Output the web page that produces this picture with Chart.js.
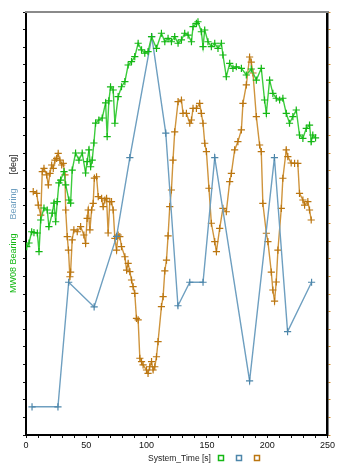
<!DOCTYPE html>
<html><head><meta charset="utf-8">
<script src="https://cdn.jsdelivr.net/npm/chart.js@4"></script>
<style>html,body{margin:0;padding:0;background:#fff;overflow:hidden}#wrap{width:337px;height:463px;position:relative}</style>
</head><body><div id="wrap"><canvas id="c" width="337" height="463"></canvas></div>
<script>
// ---- data (System_Time [s] vs bearing [deg]) ----
const greenTime = [0.6,2.5,4.7,6.6,9.4,10.8,12.2,14.9,17.6,19.0,21.8,23.2,24.6,25.9,27.3,28.7,31.5,32.9,35.6,37.0,38.3,41.1,43.9,46.6,49.4,50.7,52.2,53.6,54.9,56.3,57.7,60.4,63.2,66.0,67.3,68.7,70.1,72.3,73.7,76.4,79.2,82.0,84.7,87.5,90.2,93.0,95.8,98.5,101.2,104.1,108.2,112.3,115.1,117.8,120.6,123.3,126.1,128.9,131.6,134.4,137.2,138.5,141.3,142.6,145.4,146.8,148.2,150.9,153.7,156.5,159.2,162.0,163.3,166.1,168.9,171.6,174.4,178.6,182.7,186.8,191.0,195.1,197.8,199.3,202.0,204.7,207.5,210.3,213.0,215.8,218.5,221.3,224.1,226.8,229.6,232.4,235.1,236.5,237.8,240.1];
const greenValues = [160.3,163.4,173.0,172.2,171.9,156.0,183.0,193.2,191.5,177.3,188.9,197.4,181.5,198.6,214.5,217.0,224.1,212.8,200.0,197.4,225.5,240.0,234.0,240.0,223.0,232.6,242.6,228.3,234.0,248.5,265.5,268.1,269.8,282.6,253.9,284.3,296.2,293.6,265.3,287.9,296.4,300.7,314.9,317.7,322.0,333.4,327.7,324.9,326.2,339.0,329.1,341.9,334.7,337.6,334.7,339.0,333.4,336.2,341.9,340.4,334.7,347.5,350.4,351.7,343.2,330.5,344.7,334.7,330.5,333.4,329.1,333.4,323.4,304.9,316.3,312.1,313.4,312.1,306.4,311.5,302.1,312.1,285.1,273.8,302.1,290.8,286.6,285.1,286.6,273.8,265.3,270.9,276.6,255.3,252.5,261.0,263.8,249.6,255.3,252.8];

const blueTime = [5.0,26.5,35.4,56.5,75.1,86.1,104.3,115.9,126.0,135.8,146.8,156.5,185.4,206.0,216.9,236.8];
const blueValues = [24,24,130,109,169,236,339,257,110,130,130,236,46,236,88,130];

const orangeTime = [6.0,8.9,10.2,12.2,13.5,14.9,17.1,18.5,19.9,21.3,22.6,24.0,25.4,26.7,28.1,29.6,30.9,32.3,32.9,34.2,35.2,36.4,37.0,38.3,39.7,42.5,45.3,48.0,49.4,50.7,51.6,53.0,54.4,55.7,56.7,58.5,59.9,62.7,64.0,65.4,66.8,68.1,69.5,70.9,72.3,73.7,75.1,76.4,77.8,79.2,82.0,83.4,84.7,86.1,87.5,88.8,90.2,91.6,93.0,94.4,95.8,97.1,99.9,101.2,102.6,104.1,105.4,106.8,108.2,109.5,112.3,113.7,115.1,116.5,117.8,119.2,120.6,121.9,123.3,126.1,128.9,130.2,133.0,135.8,137.2,138.5,141.3,144.0,145.4,146.8,148.2,149.6,151.7,153.7,156.5,157.9,160.6,163.3,166.1,168.9,170.3,173.0,175.7,178.6,179.9,182.7,185.4,186.8,188.2,191.0,193.7,195.1,196.4,199.3,200.6,203.4,204.7,206.1,207.5,208.9,211.7,213.0,215.8,217.1,219.9,222.7,225.4,226.8,229.6,231.0,233.7,235.1,236.5];
const orangeValues = [207.1,205.7,195.7,187.2,224.1,227.0,221.3,212.8,222.7,229.8,227.0,234.0,235.5,239.7,234.0,229.8,231.2,221.3,191.5,168.8,157.4,134.7,138.7,166.0,174.5,173.0,177.3,170.2,163.1,184.4,191.5,174.5,191.5,197.2,218.7,219.8,202.8,201.4,194.3,200.0,201.4,171.9,198.6,198.6,191.5,167.4,157.4,170.2,168.8,160.3,151.7,140.4,146.1,139.0,131.9,126.2,120.6,99.3,97.9,65.3,62.4,59.6,55.3,52.5,58.1,62.4,55.3,58.1,66.6,79.4,109.2,117.7,139.6,148.9,169.4,194.3,208.5,234.0,257.9,283.7,285.1,273.8,273.8,265.3,268.1,278.0,278.0,282.3,273.8,265.3,248.3,241.1,210.0,180.2,164.5,156.0,175.9,192.9,190.0,215.6,222.7,242.6,249.6,259.6,282.3,297.9,321.7,317.4,308.1,270.9,246.8,241.1,197.2,171.7,164.5,138.7,123.4,114.0,130.2,157.4,192.9,218.5,242.6,236.9,231.5,231.2,231.2,205.7,200.0,195.7,198.6,191.5,183.0];

const xMin = 0, xMax = 250, xStep = 10, xLabelEvery = 50;
const yMin = 0, yMax = 360, yStep = 15;
const xTitle = 'System_Time [s]';
const yTitleParts = ['MW08 Bearing', 'Bearing', '[deg]'];

// ---- styles ----
const GREEN = '#14b814', GREEN_LINE = '#3ccc3c';
const BLUE = '#4d86aa', BLUE_LINE = '#6e9fc0';
const ORANGE = '#bb7610', ORANGE_LINE = '#cf943c';
const FONT = '"Liberation Sans", Arial, sans-serif';

function pts(t, v) { return t.map((x, i) => ({ x: x, y: v[i] })); }

function ds(label, data, line, point, axis) {
  return {
    label: label, data: data, yAxisID: axis,
    borderColor: line, borderWidth: 1.4,
    pointStyle: 'cross', pointRadius: 3.6, pointBorderWidth: 1.2,
    pointBorderColor: point, pointBackgroundColor: point,
    fill: false, tension: 0
  };
}

const textPlugin = {
  id: 'texts',
  afterDraw(chart) {
    const c = chart.ctx, a = chart.chartArea;
    c.save();
    // top grey frame line
    c.strokeStyle = '#8a8a8a'; c.lineWidth = 2;
    c.beginPath(); c.moveTo(a.left - 1, a.top); c.lineTo(a.right + 1, a.top); c.stroke();
    // x title + legend squares
    c.font = '8.5px ' + FONT; c.textBaseline = 'middle'; c.textAlign = 'left';
    c.fillStyle = '#222';
    c.fillText(xTitle, 148, 458.5);
    const cols = [GREEN, BLUE, ORANGE], xs = [218, 236, 254];
    c.lineWidth = 1.5;
    cols.forEach((col, i) => { c.strokeStyle = col; c.strokeRect(xs[i] + 0.5, 455.5, 5, 5); });
    // y title (rotated, multi-colour)
    c.translate(13.5, 293); c.rotate(-Math.PI / 2);
    c.font = '9px ' + FONT;
    const tcols = [GREEN, BLUE_LINE, '#222'];
    const gap = 14; let x = 0;
    yTitleParts.forEach((p, i) => { c.fillStyle = tcols[i]; c.fillText(p, x, 0); x += c.measureText(p).width + gap; });
    c.restore();
  }
};

new Chart(document.getElementById('c').getContext('2d'), {
  type: 'line',
  data: {
    datasets: [
      ds('MW08 Bearing', pts(greenTime, greenValues), GREEN_LINE, GREEN, 'y'),
      ds('Bearing', pts(blueTime, blueValues), BLUE_LINE, BLUE, 'y'),
      ds('Bearing 2', pts(orangeTime, orangeValues), ORANGE_LINE, ORANGE, 'y2')
    ]
  },
  options: {
    responsive: false, animation: false, devicePixelRatio: 1,
    layout: { padding: { top: 12, left: 0, right: 0, bottom: 0 } },
    plugins: { legend: { display: false }, tooltip: { enabled: false } },
    scales: {
      x: {
        type: 'linear', min: xMin, max: xMax, position: 'bottom',
        ticks: { stepSize: xStep, autoSkip: false, maxRotation: 0, padding: 2, color: '#111',
          font: { size: 9, family: FONT },
          callback: v => (v % xLabelEvery === 0 ? String(v) : '') },
        grid: { drawOnChartArea: false, drawTicks: true, tickLength: 3, color: '#111', lineWidth: 1 },
        border: { color: '#000', width: 2 },
        afterFit: s => { s.height = 28; }
      },
      y: {
        min: yMin, max: yMax, position: 'left',
        ticks: { display: false, stepSize: yStep },
        grid: { drawOnChartArea: false, drawTicks: true, tickLength: 3, color: '#111', lineWidth: 1 },
        border: { color: '#000', width: 2 },
        afterFit: s => { s.width = 26; }
      },
      y2: {
        min: yMin, max: yMax, position: 'right',
        ticks: { display: false, stepSize: yStep },
        grid: { drawOnChartArea: false, drawTicks: true, tickLength: 3, color: '#d9902a', lineWidth: 1 },
        border: { color: '#000', width: 2.5 },
        afterFit: s => { s.width = 9; }
      }
    }
  },
  plugins: [textPlugin]
});
</script>
</body></html>
